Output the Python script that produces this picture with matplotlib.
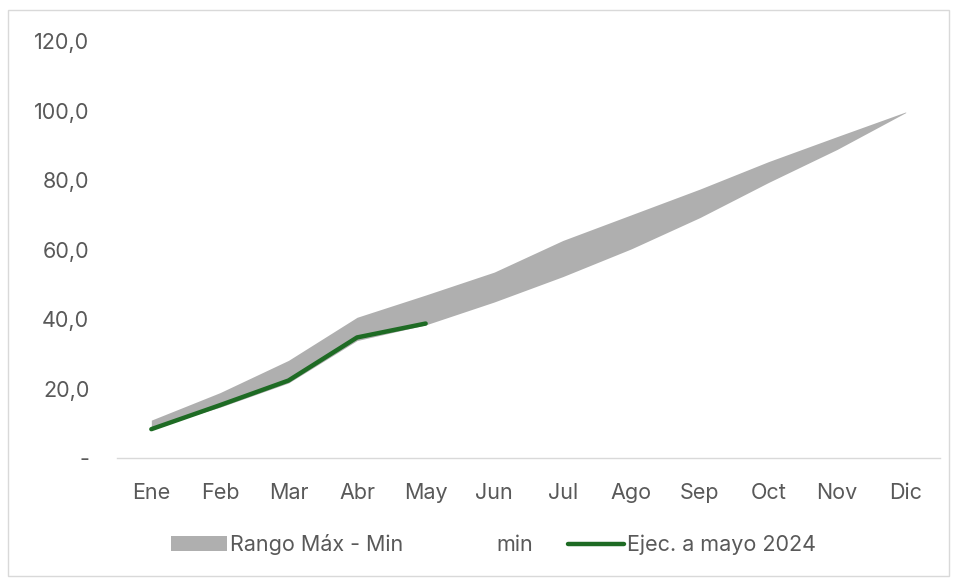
import matplotlib.pyplot as plt
from matplotlib.patches import Patch, Rectangle
from matplotlib.lines import Line2D

meses = ['Ene', 'Feb', 'Mar', 'Abr', 'May', 'Jun', 'Jul', 'Ago', 'Sep', 'Oct', 'Nov', 'Dic']
rango_max = [10.9, 18.8, 28.1, 40.5, 46.9, 53.5, 62.6, 70.0, 77.4, 85.3, 92.5, 99.6]
rango_min = [8.6, 14.6, 21.6, 33.8, 38.3, 44.9, 52.2, 60.2, 69.2, 79.3, 88.8, 99.4]
ejec_meses = ['Ene', 'Feb', 'Mar', 'Abr', 'May']
ejec = [8.3, 15.2, 22.3, 34.7, 38.7]
y_ticks = [0, 20, 40, 60, 80, 100, 120]

plt.rcParams['font.family'] = ['Inter', 'DejaVu Sans']
txt = '#595959'
gris = '#afafaf'
verde = '#1e6b24'
fs = 15.5

fig = plt.figure(figsize=(9.57, 5.78), dpi=100)
ax = fig.add_axes([0.1223, 0.2076, 0.8599, 0.7214])

x = list(range(len(meses)))
ax.fill_between(x, rango_min, rango_max, color=gris, linewidth=0)
ax.plot(range(len(ejec)), ejec, color=verde, linewidth=3.2, solid_capstyle='round', solid_joinstyle='round')

ax.set_xlim(-0.5, len(meses) - 0.5)
ax.set_ylim(0, 120)
ax.set_xticks(x)
ax.set_xticklabels(meses)
ax.set_yticks(y_ticks)
ax.set_yticklabels(['-' if v == 0 else f'{v:.1f}'.replace('.', ',') for v in y_ticks])
ax.tick_params(axis='both', length=0, labelsize=fs, colors=txt)
ax.tick_params(axis='x', pad=18)
ax.tick_params(axis='y', pad=20)
for s in ['top', 'right', 'left']:
    ax.spines[s].set_visible(False)
ax.spines['bottom'].set_color('#d9d9d9')
ax.spines['bottom'].set_linewidth(1)

handles = [Patch(facecolor=gris, edgecolor='none'),
           Patch(facecolor='none', edgecolor='none'),
           Line2D([0], [0], color=verde, linewidth=3.2, solid_capstyle='round')]
labels = ['Rango Máx - Min', 'min', 'Ejec. a mayo 2024']
fig.legend(handles, labels, loc='center', bbox_to_anchor=(0.5155, 0.058), ncol=3, frameon=False,
           fontsize=fs, labelcolor=txt, handlelength=2.6, handleheight=0.65,
           handletextpad=0.15, columnspacing=1.6)

fig.add_artist(Rectangle((0.008, 0.003), 0.984, 0.98, transform=fig.transFigure,
                         fill=False, edgecolor='#d9d9d9', linewidth=1))

plt.savefig('out.png', dpi=100)
